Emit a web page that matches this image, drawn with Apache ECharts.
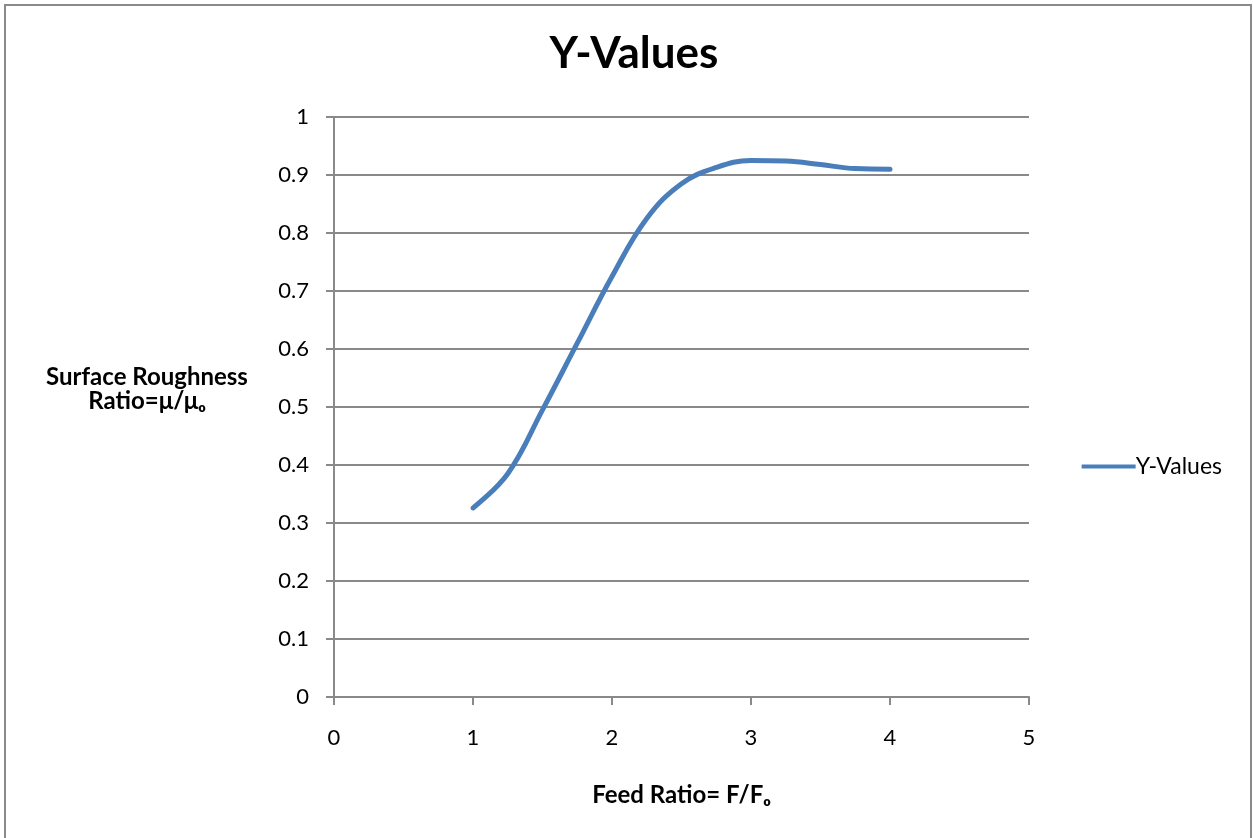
<!DOCTYPE html>
<html>
<head>
<meta charset="utf-8">
<script src="https://cdn.jsdelivr.net/npm/echarts@6/dist/echarts.min.js"></script>
<style>
html,body{margin:0;padding:0;background:#fff;}
#main{width:1253px;height:838px;}
</style>
</head>
<body>
<div id="main"></div>
<script>
var seriesName = 'Y-Values';
var xValues = [1, 1.25, 1.5, 1.75, 2, 2.25, 2.5, 2.75, 3, 3.25, 3.5, 3.75, 4];
var yValues = [0.326, 0.385, 0.495, 0.61, 0.725, 0.825, 0.885, 0.913, 0.925, 0.924, 0.918, 0.911, 0.91];
var xTicks = [0, 1, 2, 3, 4, 5];
var yTicks = [0, 0.1, 0.2, 0.3, 0.4, 0.5, 0.6, 0.7, 0.8, 0.9, 1];

var font = 'Lato, "Open Sans", sans-serif';
var chart = echarts.init(document.getElementById('main'), null, {renderer: 'canvas'});
var data = xValues.map(function (x, i) { return [x, yValues[i]]; });

chart.setOption({
  animation: false,
  backgroundColor: '#fff',
  title: {
    text: 'Y-Values',
    left: 629,
    top: 27,
    textAlign: 'center',
    textStyle: {fontFamily: font, fontSize: 44, fontWeight: 'bold', color: '#000'}
  },
  legend: {
    right: 26,
    top: 450,
    orient: 'vertical',
    itemWidth: 54,
    itemHeight: 4,
    itemGap: 4,
    textStyle: {fontFamily: font, fontSize: 23, color: '#000', padding: [0, 0, 0, -5]},
    data: [{name: seriesName, icon: 'path://M0,0 L54,0 L54,4 L0,4 Z'}]
  },
  grid: {left: 334, right: 224, top: 117, bottom: 141, containLabel: false},
  graphic: [{
    type: 'rect',
    shape: {x: 5, y: 5, width: 1246, height: 850},
    style: {fill: 'none', stroke: '#8a8a8a', lineWidth: 2},
    silent: true
  }, {
    type: 'text',
    x: 147, y: 365,
    style: {text: 'Surface Roughness\nRatio=\u03bc/\u03bc\u2092', fontFamily: font, fontSize: 24, fontWeight: 'bold', fill: '#000', align: 'center', lineHeight: 24}
  }],
  xAxis: {
    type: 'value',
    min: 0, max: 5, interval: 1,
    name: 'Feed Ratio= F/F\u2092',
    nameLocation: 'middle',
    nameGap: 86,
    nameTextStyle: {fontFamily: font, fontSize: 24, fontWeight: 'bold', color: '#000'},
    axisLine: {show: true, lineStyle: {color: '#898989', width: 2}},
    axisTick: {show: true, length: 8, lineStyle: {color: '#898989', width: 2}},
    axisLabel: {fontFamily: font, fontSize: 22, color: '#000', margin: 30,
      formatter: function (v) { return xTicks.indexOf(v) >= 0 ? String(v) : ''; }},
    splitLine: {show: false}
  },
  yAxis: {
    type: 'value',
    min: 0, max: 1, interval: 0.1,
    axisLine: {show: true, lineStyle: {color: '#898989', width: 2}},
    axisTick: {show: true, length: 8, lineStyle: {color: '#898989', width: 2}},
    axisLabel: {fontFamily: font, fontSize: 22, color: '#000', margin: 25,
      formatter: function (v) {
        var r = Math.round(v * 10) / 10;
        return yTicks.indexOf(r) >= 0 ? String(r) : '';
      }},
    splitLine: {show: true, lineStyle: {color: '#898989', width: 2}}
  },
  series: [{
    name: seriesName,
    type: 'line',
    data: data,
    smooth: 0.4,
    showSymbol: false,
    symbol: 'none',
    lineStyle: {color: '#4a7ebb', width: 5, cap: 'round'},
    itemStyle: {color: '#4a7ebb'}
  }]
});
</script>
</body>
</html>
